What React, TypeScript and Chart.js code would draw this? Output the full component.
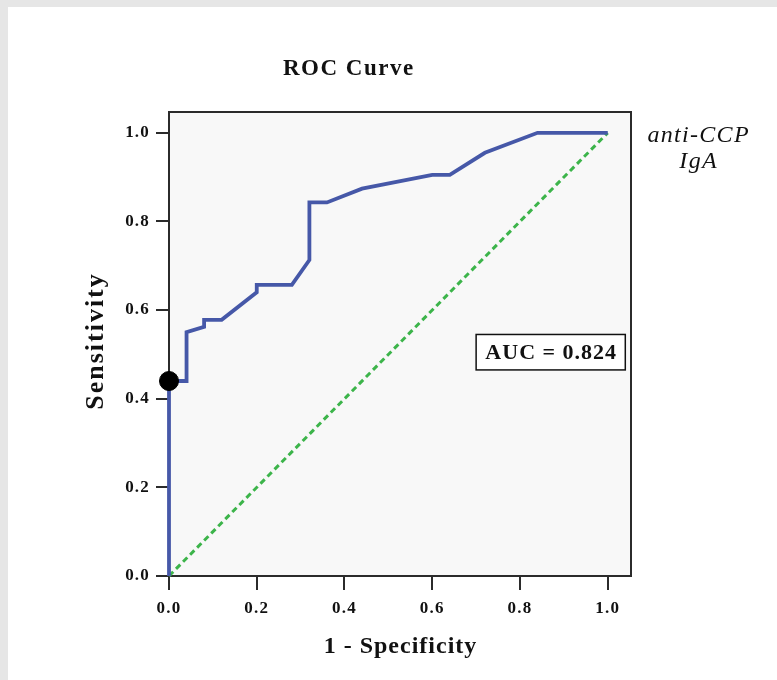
import React, { useEffect, useRef } from 'react';
import { Chart, registerables } from 'chart.js';

Chart.register(...registerables);

// ROC curve (1 - specificity, sensitivity)
const rocFpr = [0, 0, 0.04, 0.04, 0.08, 0.08, 0.12, 0.2, 0.2, 0.28, 0.32, 0.32, 0.36, 0.44, 0.6, 0.64, 0.72, 0.84, 1.0];
const rocTpr = [0, 0.44, 0.44, 0.55, 0.562, 0.578, 0.578, 0.64, 0.657, 0.657, 0.713, 0.843, 0.843, 0.874, 0.905, 0.905, 0.955, 1.0, 1.0];
// reference diagonal
const refX = [0, 1];
const refY = [0, 1];
// highlighted cut-off point
const cutX = [0];
const cutY = [0.44];
// ticks
const tickValues = [0, 0.2, 0.4, 0.6, 0.8, 1.0];
const tickLabels = ['0.0', '0.2', '0.4', '0.6', '0.8', '1.0'];

const chartTitle = 'ROC Curve';
const xTitle = '1 - Specificity';
const yTitle = 'Sensitivity';
const legendLines = ['anti-CCP', 'IgA'];
const aucLabel = 'AUC = 0.824';

const SERIF = '"Liberation Serif", "Times New Roman", serif';

function spacedText(ctx: CanvasRenderingContext2D, text: string, x: number, y: number, spacing: number) {
  ctx.letterSpacing = spacing + 'px';
  ctx.fillText(text, x + spacing / 2, y);
}

const decorPlugin = {
  id: 'rocDecor',
  beforeDraw(chart: any) {
    chart.ctx.letterSpacing = '1.2px';
  },
  beforeDatasetsDraw(chart: any) {
    const { ctx, chartArea } = chart;
    const { left, top, right, bottom } = chartArea;
    ctx.save();
    ctx.fillStyle = '#f8f8f8';
    ctx.fillRect(left, top, right - left, bottom - top);
    ctx.strokeStyle = '#2b2b2b';
    ctx.lineWidth = 2;
    ctx.strokeRect(left, top, right - left, bottom - top);
    ctx.restore();
  },
  afterDraw(chart: any) {
    const ctx: CanvasRenderingContext2D = chart.ctx;
    const xs = chart.scales.x;
    const ys = chart.scales.y;
    const { chartArea } = chart;
    ctx.save();
    ctx.fillStyle = '#111';
    ctx.textAlign = 'center';
    ctx.textBaseline = 'middle';

    // main title
    ctx.font = `bold 23px ${SERIF}`;
    spacedText(ctx, chartTitle, 348, 69, 1.5);

    // x title
    ctx.font = `bold 24px ${SERIF}`;
    spacedText(ctx, xTitle, (chartArea.left + chartArea.right) / 2, 647, 1);

    // y title
    ctx.save();
    ctx.translate(96, (chartArea.top + chartArea.bottom) / 2 - 2);
    ctx.rotate(-Math.PI / 2);
    ctx.font = `bold 26px ${SERIF}`;
    spacedText(ctx, yTitle, 0, 0, 2);
    ctx.restore();

    // legend text
    ctx.font = `italic 24px ${SERIF}`;
    spacedText(ctx, legendLines[0], 698, 136, 1.3);
    spacedText(ctx, legendLines[1], 698, 162, 1.3);

    // AUC box
    const bx1 = xs.getPixelForValue(0.70);
    const bx2 = xs.getPixelForValue(1.04);
    const by1 = ys.getPixelForValue(0.545);
    const by2 = ys.getPixelForValue(0.465);
    ctx.fillStyle = '#fff';
    ctx.fillRect(bx1, by1, bx2 - bx1, by2 - by1);
    ctx.strokeStyle = '#111';
    ctx.lineWidth = 1.5;
    ctx.strokeRect(bx1, by1, bx2 - bx1, by2 - by1);
    ctx.fillStyle = '#111';
    ctx.font = `bold 22px ${SERIF}`;
    spacedText(ctx, aucLabel, (bx1 + bx2) / 2, (by1 + by2) / 2 + 1, 1);

    ctx.restore();
    ctx.letterSpacing = '0px';
  },
};

export default function App() {
  const ref = useRef<HTMLCanvasElement>(null);
  useEffect(() => {
    if (!ref.current) return;
    const tickFont = { family: SERIF, size: 17, weight: 'bold' as const };
    const chart = new Chart(ref.current, {
      type: 'scatter',
      data: {
        datasets: [
          {
            label: 'cutoff',
            data: cutX.map((x, i) => ({ x, y: cutY[i] })),
            pointRadius: 9.5,
            pointBackgroundColor: '#000',
            pointBorderColor: '#000',
            showLine: false,
            clip: false as any,
            order: 0,
          },
          {
            label: 'anti-CCP IgA',
            data: rocFpr.map((x, i) => ({ x, y: rocTpr[i] })),
            showLine: true,
            borderColor: '#4658a8',
            borderWidth: 3.8,
            pointRadius: 0,
            clip: false as any,
            order: 1,
          },
          {
            label: 'reference',
            data: refX.map((x, i) => ({ x, y: refY[i] })),
            showLine: true,
            borderColor: '#3cb44a',
            borderWidth: 3,
            borderDash: [6, 4],
            pointRadius: 0,
            clip: false as any,
            order: 2,
          },
        ],
      },
      options: {
        animation: false,
        responsive: false,
        maintainAspectRatio: false,
        layout: { padding: { top: 112, right: 146, bottom: 0, left: 0 } },
        plugins: {
          legend: { display: false },
          tooltip: { enabled: false },
          title: { display: false },
        },
        scales: {
          x: {
            type: 'linear',
            min: 0,
            max: 1.053,
            afterBuildTicks: (s: any) => {
              s.ticks = tickValues.map((v) => ({ value: v }));
            },
            afterFit: (s: any) => {
              s.height = 104;
            },
            grid: { drawOnChartArea: false, drawTicks: true, tickLength: 14, color: '#2b2b2b', lineWidth: 2 },
            border: { display: false },
            ticks: {
              autoSkip: false,
              maxRotation: 0,
              padding: 8,
              color: '#111',
              font: tickFont,
              callback: (v: any) => tickLabels[tickValues.indexOf(Number(v))] ?? '',
            },
          },
          y: {
            type: 'linear',
            min: 0,
            max: 1.047,
            afterBuildTicks: (s: any) => {
              s.ticks = tickValues.map((v) => ({ value: v }));
            },
            afterFit: (s: any) => {
              s.width = 169;
            },
            grid: { drawOnChartArea: false, drawTicks: true, tickLength: 13, color: '#2b2b2b', lineWidth: 2 },
            border: { display: false },
            ticks: {
              autoSkip: false,
              padding: 6,
              color: '#111',
              font: tickFont,
              callback: (v: any) => tickLabels[tickValues.indexOf(Number(v))] ?? '',
            },
          },
        },
      },
      plugins: [decorPlugin],
    });
    return () => chart.destroy();
  }, []);

  return (
    <div style={{ position: 'fixed', inset: 0, background: '#e6e6e6' }}>
      <div style={{ position: 'absolute', left: 8, top: 7, right: 0, bottom: 0, background: '#fff' }} />
      <canvas
        ref={ref}
        width={777}
        height={680}
        style={{ position: 'absolute', left: 0, top: 0, width: 777, height: 680 }}
      />
    </div>
  );
}
